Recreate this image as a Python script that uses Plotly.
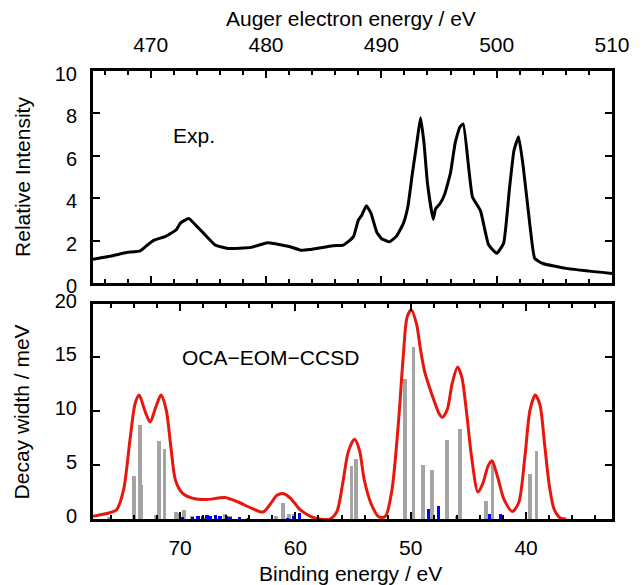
import plotly.graph_objects as go

# ---------------- data ----------------
# Experimental Auger spectrum (top panel)
ke_exp = [465.0, 466.8, 467.9, 469.1, 469.6, 470.3, 471.3, 472.2, 472.6, 473.3, 473.9, 474.6,
          475.6, 476.7, 478.7, 480.1, 481.0, 482.1, 483.0, 483.8, 485.8, 486.7, 487.1, 487.6,
          488.0, 488.3, 488.7, 489.1, 489.6, 490.0, 490.7, 491.3, 491.9, 492.3, 492.7, 493.1,
          493.4, 493.7, 494.0, 494.5, 494.7, 495.1, 495.5, 496.0, 496.4, 496.8, 497.1, 497.6,
          497.9, 498.6, 499.3, 500.0, 500.6, 501.1, 501.5, 501.9, 502.3, 502.9, 503.3, 504.0,
          506.0, 510.0]
int_exp = [1.12, 1.3, 1.44, 1.52, 1.74, 2.02, 2.2, 2.5, 2.84, 3.04, 2.73, 2.34,
           1.79, 1.63, 1.68, 1.9, 1.83, 1.71, 1.55, 1.58, 1.76, 1.79, 1.94, 2.2,
           2.96, 3.2, 3.64, 3.3, 2.4, 2.1, 1.94, 2.2, 2.8, 3.6, 5.2, 6.7,
           7.8, 6.6, 4.7, 3.0, 3.5, 3.75, 4.2, 5.2, 6.6, 7.35, 7.5, 5.3,
           4.06, 3.4, 1.8, 1.4, 1.87, 4.4, 6.25, 6.9, 5.5, 2.65, 1.16, 0.92,
           0.69, 0.45]

# Broadened OCA-EOM-CCSD spectrum (bottom panel, red curve)
be_curve = [77.55, 76.05, 75.5, 74.9, 74.35, 73.9, 73.55, 73.07, 72.6, 72.1, 71.65, 71.2,
            70.8, 70.4, 69.8, 68.95, 67.8, 66.7, 66.1, 65.0, 63.8, 62.8, 62.1, 61.6,
            61.0, 60.4, 59.6, 58.7, 57.9, 57.0, 56.4, 55.9, 55.4, 54.87, 54.45, 54.03,
            53.46, 52.76, 52.2, 51.63, 51.07, 50.65, 50.3, 49.94, 49.5, 49.15, 48.8, 48.4,
            48.0, 47.55, 47.27, 46.85, 46.4, 45.94, 45.58, 45.15, 44.73, 44.17, 43.75, 43.3,
            42.96, 42.48, 41.9, 41.2, 40.65, 40.1, 39.66, 39.2, 38.8, 38.4, 37.97, 37.55,
            37.0, 36.5]
dw_curve = [0.25, 0.6, 0.86, 2.7, 7.3, 10.7, 11.5, 10.1, 9.0, 10.4, 11.5, 10.1,
            6.7, 3.6, 2.4, 1.94, 1.8, 1.94, 2.0, 1.6, 1.0, 0.65, 1.5, 2.2,
            2.35, 1.9, 0.86, 0.25, 0.0, 0.0, 0.7, 3.3, 6.3, 7.4, 6.4, 3.64,
            1.48, 0.19, 0.25, 2.7, 8.9, 15.1, 18.8, 19.4, 18.1, 15.7, 13.7, 12.3,
            11.05, 9.8, 9.44, 10.1, 12.6, 14.1, 13.2, 9.8, 5.8, 2.5, 3.3, 4.9,
            5.4, 3.95, 1.8, 0.7, 1.48, 5.8, 10.1, 11.5, 10.6, 7.0, 3.0, 0.86,
            0.06, 0.0]

# Individual decay channels (gray sticks)
be_gray = [76.2, 73.98, 73.5, 73.35, 72.07, 71.85, 71.36, 70.37, 70.14, 69.66, 68.95, 67.95,
           66.1, 65.7, 64.1, 61.7, 61.1, 60.57, 60.14, 55.15, 54.74, 50.5, 49.77, 48.96,
           48.17, 46.85, 46.0, 45.72, 43.46, 42.9, 39.66, 39.1]
h_gray = [0.25, 4.0, 8.8, 3.2, 0.46, 7.25, 6.5, 0.68, 0.6, 0.86, 0.3, 0.25,
          0.55, 0.3, 0.15, 0.3, 1.54, 0.55, 0.55, 5.0, 5.6, 13.05, 16.05, 5.1,
          4.57, 7.35, 0.3, 8.36, 1.7, 5.5, 4.26, 6.4]

# Individual decay channels (blue sticks)
be_blue = [69.8, 68.95, 68.44, 68.04, 67.67, 67.4, 66.96, 66.53, 65.97, 65.68, 64.85, 64.1,
           60.7, 60.14, 59.66, 48.45, 47.6, 43.2, 42.2]
h_blue = [0.25, 0.25, 0.35, 0.3, 0.4, 0.35, 0.45, 0.3, 0.3, 0.2, 0.25, 0.1,
          0.15, 0.3, 0.6, 1.0, 1.23, 0.5, 0.55]

ke_range = [465, 510]
be_range = [77.55, 32.55]

FONT = "Liberation Sans, Arial, Helvetica, sans-serif"
FS = 21
FSY = 20

# The page body adds an 8 px offset; plot area in page pixels: x 93..619, y 71..519
OFF = 8
W, H = 642 - OFF, 585 - OFF
L, R, T, B = 93 - OFF, 642 - 619, 71 - OFF, 585 - 519
PW, PH = 619 - 93, 519 - 71

fig = go.Figure()
fig.add_trace(go.Scatter(x=ke_exp, y=int_exp, mode="lines",
                         line=dict(color="black", width=3, shape="spline", smoothing=0.4),
                         xaxis="x", yaxis="y", showlegend=False, hoverinfo="skip"))
fig.add_trace(go.Bar(x=be_gray, y=h_gray, width=0.32,
                     marker=dict(color="#a4a4a4", line=dict(width=0)),
                     xaxis="x2", yaxis="y2", showlegend=False))
fig.add_trace(go.Bar(x=be_blue, y=h_blue, width=0.28,
                     marker=dict(color="#0000ff", line=dict(width=0)),
                     xaxis="x2", yaxis="y2", showlegend=False))
fig.add_trace(go.Scatter(x=be_curve, y=dw_curve, mode="lines",
                         line=dict(color="#e8170d", width=3, shape="spline", smoothing=0.8),
                         xaxis="x2", yaxis="y2", showlegend=False))

common = dict(showline=True, linewidth=3, linecolor="black", mirror="allticks",
              ticks="inside", ticklen=7, tickwidth=1.5, tickcolor="black",
              showgrid=False, zeroline=False)
xfont = dict(family=FONT, size=FS, color="black")
yfont = dict(family=FONT, size=FSY, color="black")
xminor = dict(ticks="inside", ticklen=4, tickwidth=1.5, tickcolor="black", dtick=2, showgrid=False)


def px_x(xp):
    return (xp - 93) / PW


def px_y(yp):
    return (519 - yp) / PH


fig.update_layout(
    width=W, height=H,
    margin=dict(l=L, r=R, t=T, b=B, pad=0),
    plot_bgcolor="white", paper_bgcolor="white",
    barmode="overlay", bargap=0,
    font=dict(family=FONT, size=FS, color="black"),
    xaxis=dict(domain=[0, 1], anchor="y", side="top", range=ke_range, dtick=10, tick0=0,
               minor=xminor, ticklabelstandoff=8, tickfont=xfont, **common),
    yaxis=dict(domain=[px_y(283), 1], anchor="x", range=[0, 10], dtick=2,
               ticklabelstandoff=9, ticklabelshift=3, tickfont=yfont, **common),
    xaxis2=dict(domain=[0, 1], anchor="y2", side="bottom", range=be_range, dtick=10, tick0=0,
                minor=xminor, ticklabelstandoff=8, tickfont=xfont, **common),
    yaxis2=dict(domain=[0, px_y(303.5)], anchor="x2", range=[0, 20], dtick=5,
                ticklabelstandoff=9, ticklabelshift=-3, tickfont=yfont, **common),
    annotations=[
        dict(text="Auger electron energy / eV", xref="paper", yref="paper",
             x=px_x(354), y=px_y(18), xanchor="center", yanchor="middle",
             showarrow=False, font=dict(size=FS)),
        dict(text="Binding energy / eV", xref="paper", yref="paper",
             x=px_x(354), y=px_y(573), xanchor="center", yanchor="middle",
             showarrow=False, font=dict(size=FS)),
        dict(text="Relative Intensity", xref="paper", yref="paper", textangle=-90,
             x=px_x(21), y=px_y(177), xanchor="center", yanchor="middle",
             showarrow=False, font=dict(size=FS)),
        dict(text="Decay width / meV", xref="paper", yref="paper", textangle=-90,
             x=px_x(21), y=px_y(411.5), xanchor="center", yanchor="middle",
             showarrow=False, font=dict(size=FS)),
        dict(text="Exp.", xref="x", yref="y", x=473.8, y=6.95,
             xanchor="center", yanchor="middle", showarrow=False, font=dict(size=FS)),
        dict(text="OCA\u2212EOM\u2212CCSD", xref="x2", yref="y2", x=70.0, y=15.0,
             xanchor="left", yanchor="middle", showarrow=False, font=dict(size=FS)),
    ],
)

fig.write_html("out.html")
